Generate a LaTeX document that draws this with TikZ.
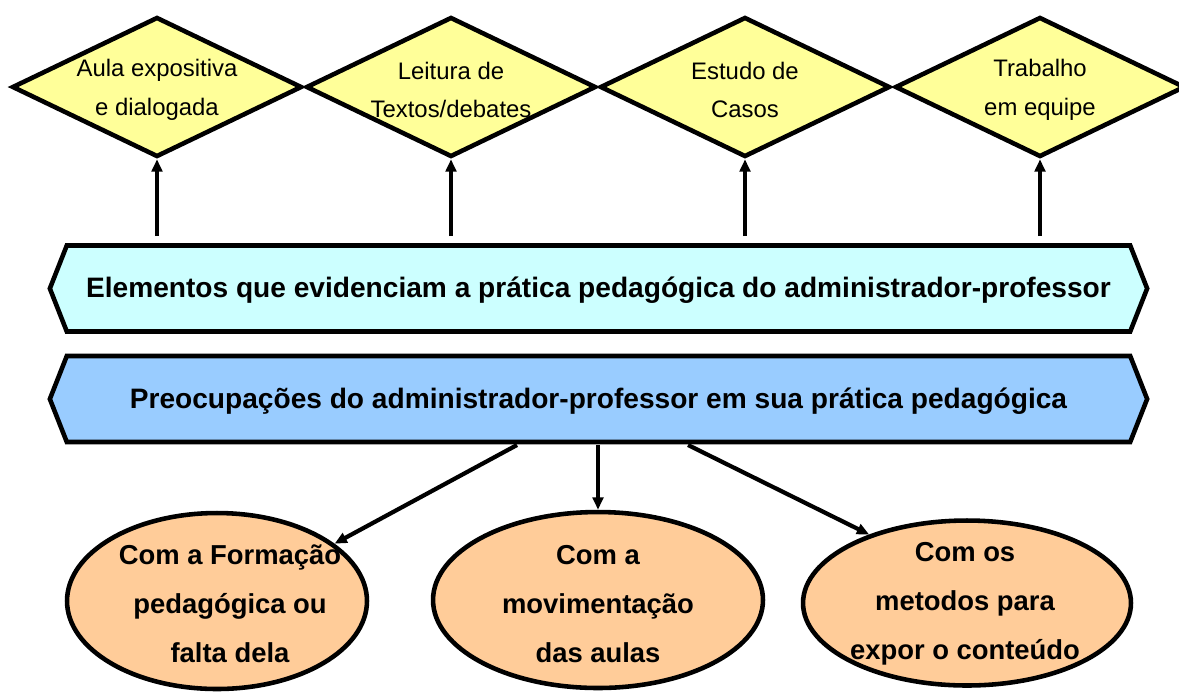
\documentclass[tikz,border=0pt]{standalone}
\usepackage{fontspec}
\setmainfont{Liberation Sans}
\usetikzlibrary{shapes.geometric,shapes.symbols,arrows.meta}
\definecolor{dyellow}{HTML}{FFFF99}
\definecolor{hcyan}{HTML}{CCFFFF}
\definecolor{hblue}{HTML}{99CCFF}
\definecolor{eorange}{HTML}{FFCC99}
\tikzset{
  dia/.style={diamond, draw, line width=2.6pt, fill=dyellow, minimum width=5.8cm, minimum height=2.8cm, inner sep=0pt},
  dtext/.style={align=center, inner sep=0pt, font=\fontsize{13.6}{22}\selectfont},
  hexa/.style={signal, signal to=west and east, signal pointer angle=137, draw, line width=2.6pt, minimum width=21.95cm, minimum height=1.72cm, inner sep=0pt},
  htext/.style={inner sep=0pt, font=\bfseries\fontsize{16}{18}\selectfont},
  ell/.style={ellipse, draw, line width=2.6pt, fill=eorange, inner sep=0pt},
  etext/.style={align=center, inner sep=0pt, font=\bfseries\fontsize{15.6}{27.8}\selectfont},
  arr/.style={line width=2.4pt, -{Triangle[length=7pt,width=6pt]}}
}
\begin{document}
\begin{tikzpicture}[x=0.02cm,y=-0.02cm]
\useasboundingbox (0,0) rectangle (1179,691);
% diamonds
\node[dia] (d1) at (157,87) {};
\node[dia] (d2) at (451,87) {};
\node[dia] (d3) at (745,87) {};
\node[dia] (d4) at (1040,87) {};
\node[dtext] (t1) at (157,90) {Aula expositiva\\e dialogada};
\node[dtext] (t2) at (451,90) {Leitura de\\Textos/debates};
\node[dtext] (t3) at (745,90) {Estudo de\\Casos};
\node[dtext] (t4) at (1040,90) {Trabalho\\em equipe};
% hexagons
\node[hexa, fill=hcyan] (h1) at (598.5,288.5) {};
\node[hexa, fill=hblue] (h2) at (598.5,399) {};
\node[htext] (ht1) at (598.5,290.5) {Elementos que evidenciam a prática pedagógica do administrador-professor};
\node[htext] (ht2) at (598.5,401) {Preocupações do administrador-professor em sua prática pedagógica};
% up arrows
\coordinate (u1) at (157,236);
\coordinate (u2) at (451,236);
\coordinate (u3) at (745,236);
\coordinate (u4) at (1040,236);
\draw[arr] (u1) -- (d1.south);
\draw[arr] (u2) -- (d2.south);
\draw[arr] (u3) -- (d3.south);
\draw[arr] (u4) -- (d4.south);
% ellipses
\node[ell, minimum width=6.0cm, minimum height=3.52cm] (e1) at (217,601) {};
\node[ell, minimum width=6.6cm, minimum height=3.52cm] (e2) at (598,600) {};
\node[ell, minimum width=6.56cm, minimum height=3.3cm] (e3) at (967,603) {};
\node[etext] (et1) at (230,604) {Com a Formação\\pedagógica ou\\falta dela};
\node[etext] (et2) at (598,604) {Com a\\movimentação\\das aulas};
\node[etext] (et3) at (965,604) {Com os\\metodos para\\expor o conteúdo};
% down arrows
\coordinate (c1) at (517,445);
\coordinate (c2) at (598,445);
\coordinate (c3) at (688,445);
\draw[arr] (c1) -- (e1.26);
\draw[arr] (c2) -- (e2.north);
\draw[arr] (c3) -- (e3.145);
\end{tikzpicture}
\end{document}
